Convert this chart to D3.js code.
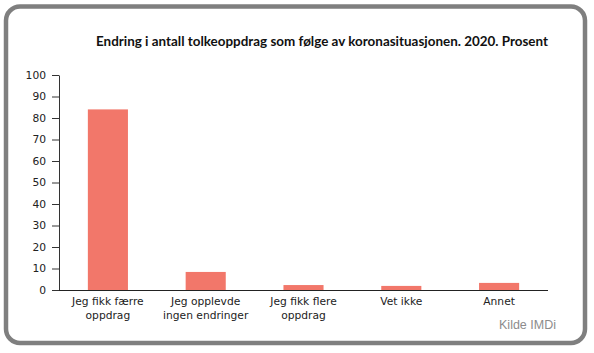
<!DOCTYPE html>
<html><head><meta charset="utf-8">
<script src="https://cdn.jsdelivr.net/npm/d3@7"></script>
<style>html,body{margin:0;padding:0;background:#fff;}</style>
</head><body>
<svg id="c" width="594" height="353"></svg>
<script>
const categories = [["Jeg fikk færre","oppdrag"],["Jeg opplevde","ingen endringer"],["Jeg fikk flere","oppdrag"],["Vet ikke"],["Annet"]];
const values = [84, 8.4, 2.3, 1.9, 3.3];
const yTicks = [0,10,20,30,40,50,60,70,80,90,100];
const title = "Endring i antall tolkeoppdrag som følge av koronasituasjonen. 2020. Prosent";
const source = "Kilde IMDi";

const svg = d3.select("#c");
svg.append("rect").attr("x",6).attr("y",6.5).attr("width",579).attr("height",336.5)
  .attr("rx",14).attr("ry",14).attr("fill","#fff").attr("stroke","#7f7f7f").attr("stroke-width",4.5);

const x = d3.scaleBand().domain(d3.range(categories.length)).range([59,548]).paddingInner(0.59).paddingOuter(0.295);
const y = d3.scaleLinear().domain([0,100]).range([290,75]);

svg.append("text").attr("x",96).attr("y",46).attr("textLength",452).attr("lengthAdjust","spacingAndGlyphs")
  .attr("font-family","Lato, 'Open Sans', sans-serif").attr("font-weight","bold").attr("font-size",13)
  .attr("fill","#111").text(title);

svg.selectAll("rect.bar").data(values).join("rect").attr("class","bar")
  .attr("x",(d,i)=>x(i)).attr("width",x.bandwidth())
  .attr("y",d=>y(d)).attr("height",d=>y(0)-y(d)).attr("fill","#f2776a");

const ya = svg.append("g").attr("transform","translate(59,0)")
  .call(d3.axisLeft(y).tickValues(yTicks).tickSize(7).tickPadding(6).tickSizeOuter(0));
ya.select(".domain").attr("stroke","#333");
ya.selectAll(".tick line").attr("stroke","#333");
ya.selectAll("text").attr("font-family","'DejaVu Sans', Verdana, sans-serif").attr("font-size",10.7).attr("fill","#222");

svg.append("line").attr("x1",59).attr("x2",548).attr("y1",290.5).attr("y2",290.5).attr("stroke","#222");

const lab = svg.append("g");
categories.forEach((lines,i)=>{
  const t = lab.append("text").attr("x",x(i)+x.bandwidth()/2).attr("y",305)
    .attr("text-anchor","middle").attr("font-family","'DejaVu Sans', Verdana, sans-serif")
    .attr("font-size",10.7).attr("fill","#222");
  lines.forEach((l,j)=>t.append("tspan").attr("x",x(i)+x.bandwidth()/2).attr("dy",j?14:0).text(l));
});

svg.append("text").attr("x",556).attr("y",329).attr("text-anchor","end")
  .attr("font-family","'Liberation Sans', Arial, sans-serif").attr("font-size",12.5).attr("fill","#8c8c8c").text(source);
</script>
</body></html>
